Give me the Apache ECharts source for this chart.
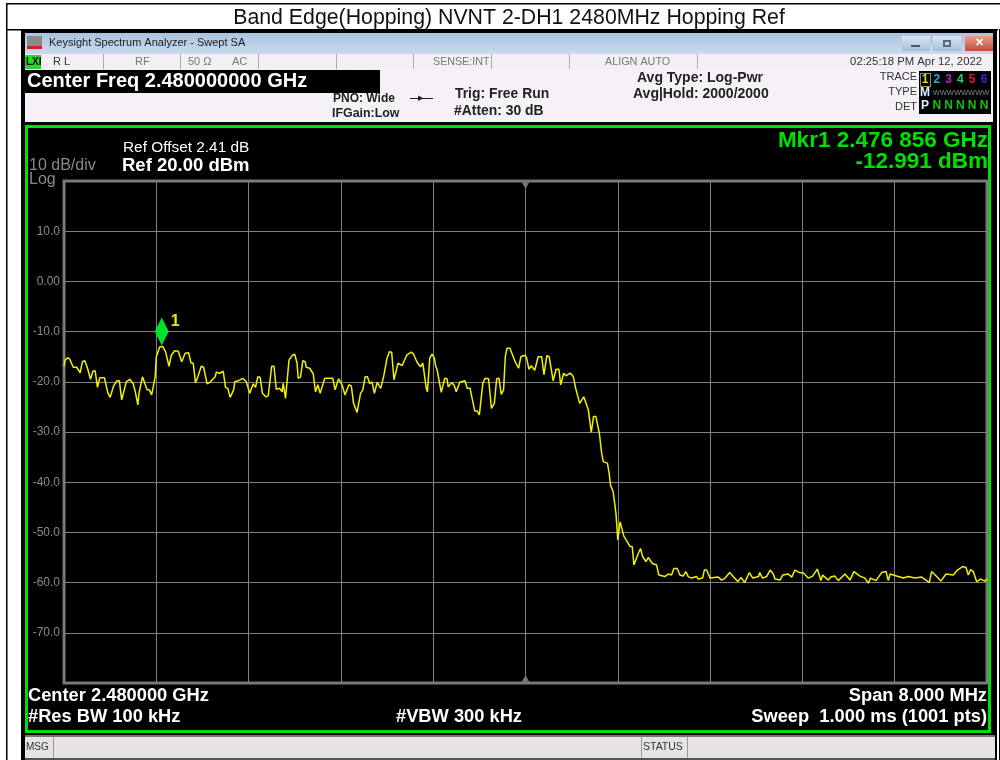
<!DOCTYPE html>
<html><head><meta charset="utf-8">
<style>html,body{margin:0;padding:0;background:#fff}#c{width:1000px;height:760px}</style>
<script src="https://cdn.jsdelivr.net/npm/echarts@6/dist/echarts.min.js"></script>
</head><body><div id="c"></div>
<script>
const titleText = "Band Edge(Hopping) NVNT 2-DH1 2480MHz Hopping Ref";
// frequency, MHz above 2.476 GHz start of span
const freqMHz = [0,.01,.03,.05,.08,.11,.12,.14,.16,.18,.20,.23,.25,.27,.29,.31,.35,.38,.40,.43,.46,.48,.50,.51,.54,.57,.60,.62,.64,.65,.68,.69,.72,.74,.76,.79,.80,.83,.856,.88,.91,.93,.96,.99,1.02,1.05,1.08,1.10,1.12,1.14,1.16,1.19,1.21,1.24,1.27,1.31,1.32,1.35,1.38,1.40,1.42,1.44,1.47,1.48,1.51,1.55,1.58,1.61,1.64,1.66,1.68,1.70,1.72,1.75,1.77,1.80,1.82,1.84,1.87,1.89,1.90,1.92,1.95,1.98,2.00,2.02,2.03,2.05,2.07,2.09,2.10,2.13,2.16,2.18,2.20,2.22,2.26,2.29,
2.305,2.33,2.35,2.36,2.38,2.39,2.41,2.435,2.45,2.47,2.49,2.51,2.54,2.56,2.57,2.59,2.61,2.63,2.65,2.67,2.69,2.715,2.745,2.77,2.80,2.82,2.84,2.86,2.895,2.93,2.97,3.01,3.03,3.06,3.09,3.11,3.125,3.14,3.15,3.17,3.19,3.21,3.22,3.235,3.27,3.30,3.32,3.33,3.36,3.38,3.40,3.43,3.475,3.495,3.52,3.53,3.56,3.58,3.60,3.63,3.65,3.68,3.705,3.73,3.75,3.77,3.79,3.81,3.825,3.84,3.865,3.91,3.94,3.96,3.995,4.01,4.03,4.05,4.08,4.11,4.14,4.16,4.185,4.205,4.24,4.265,4.29,4.305,4.33,4.35,4.37,4.39,4.415,4.435,4.45,4.47,4.505,4.545,4.57,4.59,4.61,4.64,
4.66,4.674,4.71,4.725,4.737,4.76,4.784,4.80,4.82,4.833,4.853,4.88,4.905,4.925,4.94,4.977,4.997,5.015,5.044,5.064,5.10,5.136,5.156,5.208,5.237,5.266,5.286,5.315,5.338,5.367,5.39,5.41,5.44,5.483,5.497,5.535,5.55,5.57,5.60,5.67,5.70,5.73,5.77,5.80,5.84,5.87,5.90,5.94,5.97,6.02,6.03,6.055,6.09,6.12,
6.148,6.162,6.206,6.229,6.278,6.307,6.336,6.373,6.408,6.451,6.489,6.529,6.561,6.575,6.625,6.645,6.682,6.711,6.769,6.812,6.847,6.899,6.942,6.971,6.991,7.038,7.087,7.124,7.145,7.16,7.217,7.275,7.318,7.376,7.433,7.477,7.50,7.52,7.564,7.60,7.645,7.708,7.743,7.789,7.818,7.838,7.858,7.881,7.91,7.945,7.982,8.0];
const levelDbm = [-16.9,-15.7,-15.2,-15.5,-17.1,-17.1,-17.0,-18.2,-16.0,-15.8,-17.0,-19.5,-17.9,-17.8,-21.1,-19.2,-19.2,-22.2,-23.1,-20.8,-19.8,-19.8,-23.6,-23.3,-20.0,-19.5,-20.4,-22.2,-24.6,-22.3,-19.0,-19.2,-21.6,-21.6,-22.6,-19.0,-15.0,-13.0,-12.991,-14.0,-16.9,-14.7,-13.8,-13.9,-16.0,-14.3,-14.2,-16.2,-16.3,-20.2,-19.0,-16.9,-17.1,-20.4,-20.0,-19.0,-18.1,-18.3,-17.9,-21.1,-21.3,-23.1,-21.6,-20.0,-19.8,-19.3,-20.0,-22.3,-20.4,-21.1,-19.0,-19.1,-22.3,-23.0,-22.8,-16.9,-16.9,-21.5,-21.3,-22.0,-20.3,-23.3,-15.7,-14.7,-14.5,-16.3,-19.3,-19.0,-15.8,-16.0,-17.1,-17.3,-18.4,-22.0,-20.6,-22.3,-19.3,-19.3,
-19.2,-19.3,-21.6,-21.6,-19.4,-19.4,-20.6,-22.6,-22.8,-20.6,-20.8,-24.3,-26.1,-23.6,-22.3,-21.6,-19.0,-19.0,-20.4,-20.0,-22.3,-20.1,-21.3,-19.0,-15.3,-14.0,-14.1,-19.6,-16.3,-16.8,-14.7,-14.1,-14.5,-16.1,-17.0,-16.3,-16.3,-21.3,-22.0,-15.3,-14.5,-15.3,-16.7,-17.7,-22.1,-19.3,-19.4,-21.0,-20.2,-20.6,-22.0,-20.1,-19.8,-21.3,-21.3,-22.5,-25.8,-25.8,-26.6,-20.3,-19.3,-19.4,-25.3,-24.3,-19.4,-19.3,-22.5,-21.6,-15.0,-13.3,-13.3,-16.0,-17.3,-15.0,-14.7,-15.3,-17.5,-16.8,-17.7,-15.0,-15.0,-18.6,-14.8,-15.0,-19.8,-17.5,-17.5,-20.6,-18.3,-18.8,-18.5,-18.3,-19.0,-21.3,-21.3,-24.3,-23.0,-25.6,-30.1,-26.9,-26.9,-30.3,
-34.2,-35.9,-36.2,-38.2,-40.6,-41.9,-46.2,-51.5,-47.9,-47.9,-50.8,-51.8,-52.8,-52.8,-56.5,-54.2,-53.2,-54.8,-55.8,-55.0,-56.2,-56.5,-58.5,-58.8,-58.3,-58.5,-57.2,-57.2,-58.5,-58.7,-57.8,-58.8,-59.1,-58.8,-59.3,-59.1,-57.5,-57.5,-59.1,-58.9,-59.5,-59.1,-58.0,-58.8,-59.8,-59.0,-60.0,-58.0,-59.1,-58.8,-58.0,-59.1,-58.8,-57.5,
-58.3,-59.3,-59.5,-58.5,-58.3,-58.9,-57.5,-58.0,-58.1,-59.1,-58.7,-57.3,-59.6,-58.5,-59.5,-58.9,-58.7,-59.6,-58.3,-59.5,-57.8,-58.7,-59.1,-60.1,-59.1,-59.6,-58.0,-57.8,-59.6,-58.3,-58.7,-59.1,-58.8,-59.1,-58.9,-59.6,-60.0,-57.8,-58.8,-59.7,-58.3,-58.5,-57.5,-56.8,-57.0,-58.5,-57.4,-57.8,-59.8,-59.3,-59.7,-59.3];
const markerPoint = [0.856, -12.991];
const centerMHz = 4;
const yTicks = {"10":"10.0","0":"0.00","-10":"-10.0","-20":"-20.0","-30":"-30.0","-40":"-40.0","-50":"-50.0","-60":"-60.0","-70":"-70.0"};

const FONT = '"Liberation Sans", Arial, sans-serif';
const g = [];
function rect(x,y,w,h,fill,z){g.push({type:'rect',silent:true,z:z||0,shape:{x,y,width:w,height:h},style:{fill}});}
function t(x,y,text,o){o=o||{};g.push({type:'text',silent:true,z:o.z||5,x,y,style:{text,fill:o.c||'#333',font:(o.b?'bold ':'')+(o.s||12)+'px '+FONT,textAlign:o.a||'left',textVerticalAlign:'middle'}});}
function grad(a,b){return {type:'linear',x:0,y:0,x2:0,y2:1,colorStops:[{offset:0,color:a},{offset:1,color:b}]};}

// document table lines
rect(6,3,994,1.5,'#000');
rect(6,3,1.5,757,'#000');
rect(6,29,992,1.5,'#000');
rect(21,30,976,730,'#000');
rect(999,29,1,731,'#000');
// window
rect(25,33,968,21,grad('#a9c3de','#c9dcee'));
rect(27,36,15,12,'#8a8a8a'); rect(27,46,15,3,'#d82020');
t(49,43,'Keysight Spectrum Analyzer - Swept SA',{s:11,c:'#222'});
rect(902,36,28,15,grad('#dbe6f2','#a6bdd6')); rect(911,45,9,2,'#4a5a6a');
rect(933,36,28,15,grad('#dbe6f2','#a6bdd6')); rect(943,40,8,7,'#5a6a7a'); rect(945,42,4,3,'#c4d4e4');
rect(965,36,28,15,grad('#e8a090','#c04a3a')); t(979,43,'✕',{s:11,c:'#fff',a:'center',b:true});
// status row
rect(25,54,968,15,'#f3eff5');
[103,180,258,336,413,491,569,697].forEach(x=>rect(x,54,1,15,'#aaa'));
rect(25,55,16,14,'#22dd22'); t(26,62,'LXI',{s:10,b:true,c:'#000'});
t(53,62,'R L',{s:11,c:'#333'});
t(135,62,'RF',{s:11,c:'#777'}); t(188,62,'50 Ω',{s:11,c:'#777'}); t(232,62,'AC',{s:11,c:'#777'});
t(433,62,'SENSE:INT',{s:10.7,c:'#777'}); t(605,62,'ALIGN AUTO',{s:10.8,c:'#777'});
t(982,62,'02:25:18 PM Apr 12, 2022',{s:11.3,c:'#333',a:'right'});
// settings band
rect(25,69,968,53,'#f5f1f7');
rect(25,70,355,23,'#000');
t(27,81,'Center Freq 2.480000000 GHz',{s:20,b:true,c:'#fff'});
t(333,99,'PNO: Wide',{s:12,b:true,c:'#222'}); t(332,114,'IFGain:Low',{s:12.4,b:true,c:'#222'});
rect(410,98,23,1,'#222'); t(421,98,'▸',{s:11,c:'#222',a:'center'});
t(455,94,'Trig: Free Run',{s:13.9,b:true,c:'#222'}); t(454,111,'#Atten: 30 dB',{s:13.9,b:true,c:'#222'});
t(637,78,'Avg Type: Log-Pwr',{s:14,b:true,c:'#222'}); t(633,94,'Avg|Hold: 2000/2000',{s:14,b:true,c:'#222'});
t(917,77,'TRACE',{s:11,c:'#333',a:'right'}); t(917,92,'TYPE',{s:11,c:'#333',a:'right'}); t(917,107,'DET',{s:11,c:'#333',a:'right'});
rect(919,71,72,43,'#000');
rect(920,73,11,14,'#7a9a6a'); rect(921,74,9,12,'#000');
[['1','#e8d820'],['2','#20b0d0'],['3','#c020c0'],['4','#20d080'],['5','#d02020'],['6','#4020d0']].forEach((d,i)=>t(925+i*11.8,80,d[0],{s:12,b:true,c:d[1],a:'center',z:6}));
t(925,93,'M',{s:12,b:true,c:'#dfefff',a:'center'}); t(961,93,'WWWWWWWW',{s:7.5,c:'#888',a:'center'});
t(925,106,'P',{s:12,b:true,c:'#dfefff',a:'center'});
for(let i=1;i<6;i++)t(925+i*11.8,106,'N',{s:12,b:true,c:'#10c010',a:'center'});
// green frame
rect(25,125,966,608,'#00e000'); rect(28,128,960,602,'#000');
// readouts
t(988,141,'Mkr1 2.476 856 GHz',{s:22.5,b:true,c:'#00e000',a:'right'});
t(988,162,'-12.991 dBm',{s:22.5,b:true,c:'#00e000',a:'right'});
t(123,148,'Ref Offset 2.41 dB',{s:15.4,c:'#fff'});
t(122,166,'Ref 20.00 dBm',{s:18.5,b:true,c:'#fff'});
t(29,166,'10 dB/div',{s:16,c:'#8a8a8a'}); t(29,180,'Log',{s:16,c:'#8a8a8a'});
t(28,696,'Center 2.480000 GHz',{s:18.3,b:true,c:'#fff'});
t(28,717,'#Res BW 100 kHz',{s:18.3,b:true,c:'#fff'});
t(396,717,'#VBW 300 kHz',{s:18.3,b:true,c:'#fff'});
t(987,696,'Span 8.000 MHz',{s:18.3,b:true,c:'#fff',a:'right'});
t(987,717,'Sweep  1.000 ms (1001 pts)',{s:18.3,b:true,c:'#fff',a:'right'});
// message bar
rect(25,735,970,2,'#777');
rect(25,737,970,21,'#e6e2e6');
rect(25,758,970,2,'#555');
[53,641,687].forEach(x=>rect(x,737,1,21,'#999'));
t(26,747,'MSG',{s:10,c:'#333'}); t(643,747,'STATUS',{s:10.5,c:'#333'});

const chart = echarts.init(document.getElementById('c'),null,{renderer:'canvas'});
chart.setOption({
  animation:false,
  backgroundColor:'#fff',
  title:{text:titleText,left:509,top:5,textAlign:'center',textStyle:{fontFamily:FONT,fontSize:21.3,fontWeight:'normal',color:'#111'},padding:[3,10,3,0]},
  graphic:{elements:g},
  grid:{left:64,top:181,width:923,height:502,show:true,backgroundColor:'transparent',borderColor:'#757575',borderWidth:3,z:3},
  xAxis:{type:'value',min:0,max:8,interval:0.8,z:3,axisLine:{show:false},axisTick:{show:false},axisLabel:{show:false},
    splitLine:{show:true,lineStyle:{color:'#808080',width:1}}},
  yAxis:{type:'value',min:-80,max:20,interval:10,z:3,axisLine:{show:false},axisTick:{show:false},
    axisLabel:{show:true,margin:4,color:'#8a8a8a',fontFamily:FONT,fontSize:12,formatter:v=>yTicks[String(v)]||''},
    splitLine:{show:true,lineStyle:{color:'#808080',width:1}}},
  series:[{type:'line',z:6,data:freqMHz.map((f,i)=>[f,levelDbm[i]]),showSymbol:false,smooth:false,silent:true,
    lineStyle:{color:'#f0f000',width:1.5},
    markPoint:{silent:true,animation:false,data:[
      {coord:markerPoint,symbol:'diamond',symbolSize:[14,28],symbolOffset:[-1,-15],itemStyle:{color:'#00e030'},
       label:{show:true,formatter:'1',position:'right',offset:[-4,-10],color:'#e8e800',fontFamily:FONT,fontSize:16,fontWeight:'bold',backgroundColor:'#000',padding:[1,5,1,1]}},
      {coord:[centerMHz,20],symbol:'triangle',symbolRotate:180,symbolSize:[9,8],symbolOffset:[0,4],itemStyle:{color:'#757575'},label:{show:false}},
      {coord:[centerMHz,-80],symbol:'triangle',symbolSize:[9,8],symbolOffset:[0,-4],itemStyle:{color:'#757575'},label:{show:false}}
    ]}}]
});
</script></body></html>
